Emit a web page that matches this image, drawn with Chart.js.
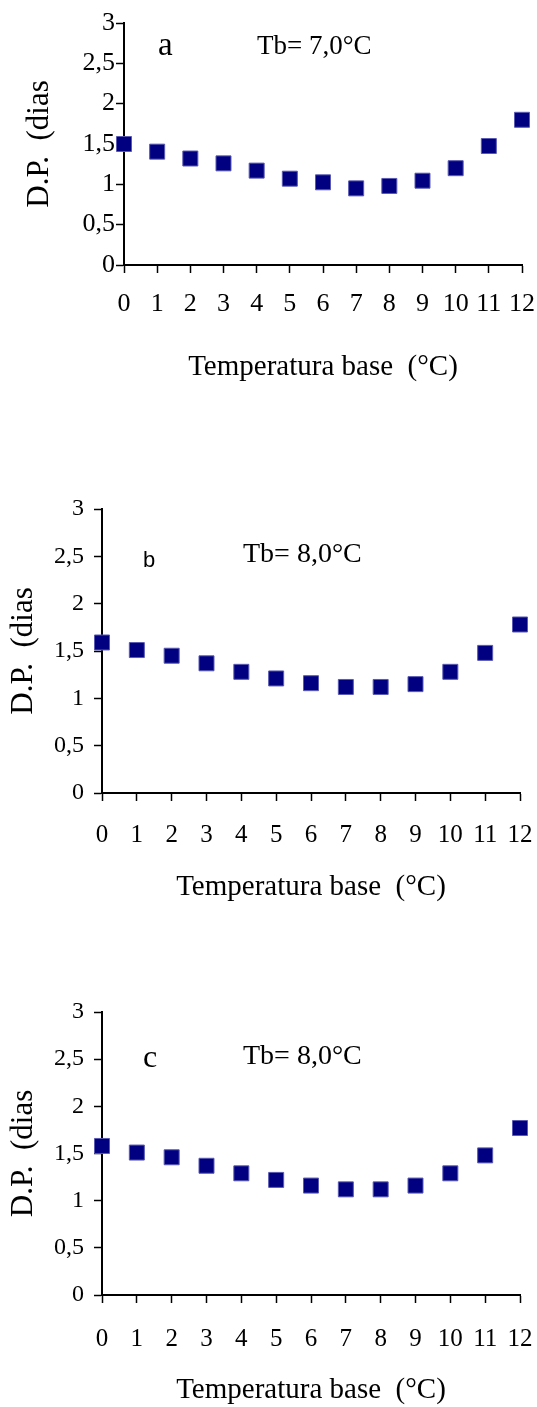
<!DOCTYPE html>
<html>
<head>
<meta charset="utf-8">
<script src="https://cdn.jsdelivr.net/npm/chart.js@4.4.1/dist/chart.umd.min.js"></script>
<style>
  html, body { margin: 0; padding: 0; background: #ffffff; }
  body { width: 537px; height: 1407px; position: relative; overflow: hidden; }
  .panel { position: absolute; left: 0; width: 537px; }
</style>
</head>
<body>
<div class="panel" style="top:0px;height:400px;"><canvas id="ca"></canvas></div>
<div class="panel" style="top:470px;height:440px;"><canvas id="cb"></canvas></div>
<div class="panel" style="top:960px;height:447px;"><canvas id="cc"></canvas></div>
<script>
// ---- data ----
const temperaturaBase = [0, 1, 2, 3, 4, 5, 6, 7, 8, 9, 10, 11, 12];
const dpA = [1.50, 1.405, 1.32, 1.26, 1.17, 1.07, 1.025, 0.95, 0.98, 1.045, 1.20, 1.475, 1.80];
const dpB = [1.59, 1.51, 1.45, 1.37, 1.28, 1.21, 1.16, 1.12, 1.12, 1.15, 1.28, 1.48, 1.78];
const dpC = [1.58, 1.51, 1.46, 1.37, 1.29, 1.22, 1.16, 1.12, 1.12, 1.16, 1.29, 1.48, 1.77];
const yTickValues = [0, 0.5, 1, 1.5, 2, 2.5, 3];
const yTickLabels = ['0', '0,5', '1', '1,5', '2', '2,5', '3'];
const xTitle = 'Temperatura base  (°C)';
const yTitle = 'D.P.  (dias';

const SERIF = '"Liberation Serif", "Times New Roman", serif';
const SANS = '"Liberation Sans", Arial, sans-serif';

const annotPlugin = {
  id: 'annot',
  afterDraw(chart, args, opts) {
    const ctx = chart.ctx;
    ctx.save();
    ctx.fillStyle = '#000';
    ctx.textAlign = 'left';
    ctx.textBaseline = 'alphabetic';
    (opts.items || []).forEach(it => {
      ctx.font = it.font;
      ctx.fillText(it.text, it.x, it.y - opts.top);
    });
    ctx.restore();
  }
};

function makeChart(id, values, p) {
  const H = p.height;
  const xScaleH = (p.top + H) - p.areaBottom;
  const xTitleFont = 29, xTitleLH = 1.2 * xTitleFont;
  const yTitleFont = 31, yTitleLH = 1.2 * yTitleFont;
  const pts = temperaturaBase.map((t, i) => ({ x: t, y: values[i] }));
  return new Chart(document.getElementById(id), {
    type: 'scatter',
    data: {
      datasets: [{
        data: pts,
        pointStyle: 'rect',
        pointRadius: 10.6,
        pointHoverRadius: 10.6,
        backgroundColor: '#000080',
        borderColor: '#5a5ab4',
        borderWidth: 1,
        clip: false
      }]
    },
    plugins: [annotPlugin],
    options: {
      responsive: true,
      maintainAspectRatio: false,
      animation: false,
      events: [],
      layout: { padding: { top: p.areaTop - p.top, right: 537 - p.areaRight, left: 0, bottom: 0 } },
      plugins: {
        legend: { display: false },
        tooltip: { enabled: false },
        annot: { top: p.top, items: p.annots }
      },
      scales: {
        x: {
          type: 'linear',
          min: 0, max: 12,
          afterFit: s => { s.height = xScaleH; s.paddingLeft = 0; s.paddingRight = 0; },
          afterBuildTicks: s => { s.ticks = temperaturaBase.map(v => ({ value: v })); },
          ticks: {
            color: '#000',
            font: { family: SERIF, size: p.xTickFont },
            padding: p.xTickPad,
            maxRotation: 0,
            autoSkip: false,
            callback: v => String(v)
          },
          grid: { display: true, drawOnChartArea: false, drawTicks: true, tickLength: 8, tickColor: '#000', tickWidth: 1.5 },
          border: { display: true, color: '#000', width: 2 },
          title: {
            display: true,
            text: xTitle,
            color: '#000',
            font: { family: SERIF, size: xTitleFont },
            padding: { top: 0, bottom: (p.top + H) - p.xTitleY - xTitleLH / 2 }
          }
        },
        y: {
          type: 'linear',
          min: 0, max: 3,
          afterFit: s => { s.width = p.areaLeft; s.paddingTop = 0; s.paddingBottom = 0; },
          afterBuildTicks: s => { s.ticks = yTickValues.map(v => ({ value: v })); },
          ticks: {
            color: '#000',
            font: { family: SERIF, size: p.yTickFont },
            padding: p.yTickPad,
            callback: (v) => { const i = yTickValues.indexOf(v); return i >= 0 ? yTickLabels[i] : ''; }
          },
          grid: { display: true, drawOnChartArea: false, drawTicks: true, tickLength: 8, tickColor: '#000', tickWidth: 1.5 },
          border: { display: true, color: '#000', width: 2 },
          title: {
            display: true,
            text: yTitle,
            color: '#000',
            font: { family: SERIF, size: yTitleFont },
            padding: { top: p.yTitleX - yTitleLH / 2, bottom: 0 }
          }
        }
      }
    }
  });
}

makeChart('ca', dpA, {
  top: 0, height: 400, areaLeft: 124, areaRight: 522, areaTop: 23, areaBottom: 265,
  xTickFont: 26, xTickPad: 16, yTickFont: 26, yTickPad: 1, xTitleY: 367, yTitleX: 40,
  annots: [
    { text: 'a', x: 158, y: 55, font: '33px ' + SERIF },
    { text: 'Tb= 7,0°C', x: 257, y: 53.5, font: '27px ' + SERIF }
  ]
});
makeChart('cb', dpB, {
  top: 470, height: 440, areaLeft: 102, areaRight: 520, areaTop: 509, areaBottom: 793,
  xTickFont: 25, xTickPad: 19, yTickFont: 24, yTickPad: 10, xTitleY: 887, yTitleX: 24,
  annots: [
    { text: 'b', x: 143, y: 567, font: '22px ' + SANS },
    { text: 'Tb= 8,0°C', x: 243, y: 561.5, font: '28px ' + SERIF }
  ]
});
makeChart('cc', dpC, {
  top: 960, height: 447, areaLeft: 102, areaRight: 520, areaTop: 1012, areaBottom: 1295,
  xTickFont: 25, xTickPad: 21, yTickFont: 24, yTickPad: 10, xTitleY: 1390, yTitleX: 24,
  annots: [
    { text: 'c', x: 143, y: 1067, font: '32px ' + SERIF },
    { text: 'Tb= 8,0°C', x: 243, y: 1063.5, font: '28px ' + SERIF }
  ]
});
</script>
</body>
</html>
